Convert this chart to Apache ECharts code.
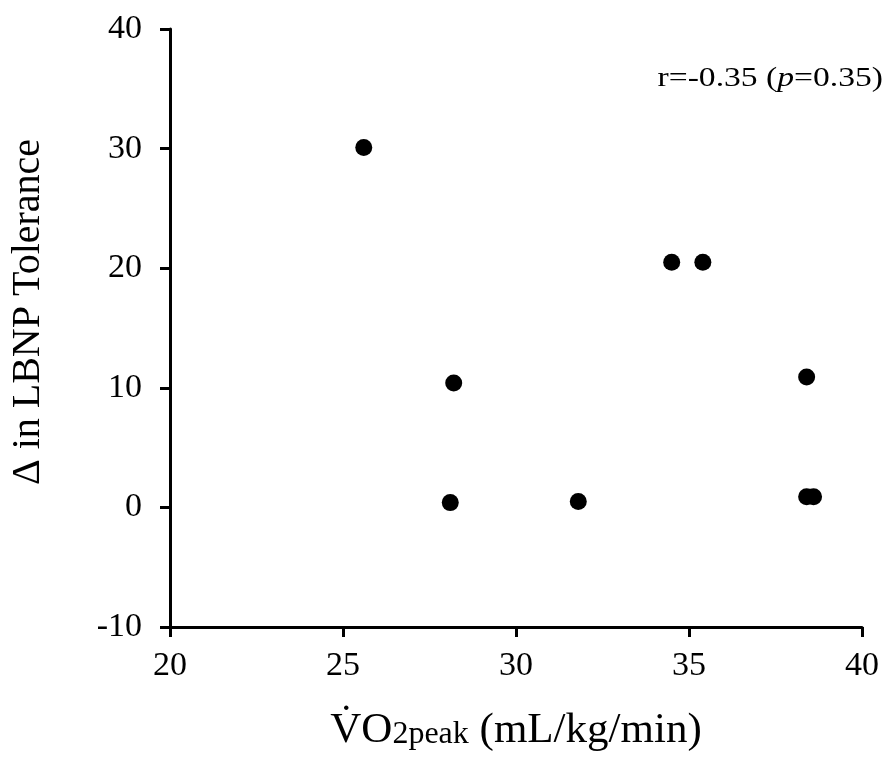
<!DOCTYPE html>
<html>
<head>
<meta charset="utf-8">
<script src="https://cdn.jsdelivr.net/npm/echarts@6/dist/echarts.min.js"></script>
<style>
html,body{margin:0;padding:0;background:#fff;}
#chart{width:887px;height:757px;}
</style>
</head>
<body>
<div id="chart"></div>
<script>
// Data
const vo2peak = [25.6, 28.2, 28.1, 31.8, 34.5, 35.4, 38.4, 38.4, 38.6];
const deltaLBNP = [30.1, 10.4, 0.4, 0.5, 20.5, 20.5, 10.9, 0.9, 0.9];
const xTicks = [20, 25, 30, 35, 40];
const yTicks = [-10, 0, 10, 20, 30, 40];
const yTitle = 'Δ in LBNP Tolerance';
const statText = 'r=-0.35 (p=0.35)';

const FONT = '"Liberation Serif", "Times New Roman", serif';
const points = vo2peak.map((x, i) => [x, deltaLBNP[i]]);

const chart = echarts.init(document.getElementById('chart'), null, {renderer: 'canvas'});
chart.setOption({
  backgroundColor: '#ffffff',
  animation: false,
  grid: {left: 165, right: 25, top: 29, bottom: 126, containLabel: false},
  xAxis: {
    type: 'value',
    min: xTicks[0], max: xTicks[xTicks.length - 1], interval: 5,
    splitLine: {show: false},
    axisLine: {show: true, onZero: false, lineStyle: {color: '#000', width: 3}},
    axisTick: {show: true, length: 10, lineStyle: {color: '#000', width: 3}},
    axisLabel: {color: '#000', fontFamily: FONT, fontSize: 34, margin: 22},
    name: '{v|V̇O}{s|2peak}{v| (mL/kg/min)}',
    nameLocation: 'middle',
    nameGap: 82,
    nameTextStyle: {
      color: '#000', fontFamily: FONT,
      rich: {
        v: {fontFamily: FONT, fontSize: 43, color: '#000', verticalAlign: 'bottom'},
        s: {fontFamily: FONT, fontSize: 32, color: '#000', verticalAlign: 'bottom', padding: [0, 0, 1, 0]}
      }
    }
  },
  yAxis: {
    type: 'value',
    min: yTicks[0], max: yTicks[yTicks.length - 1], interval: 10,
    splitLine: {show: false},
    axisLine: {show: true, onZero: false, lineStyle: {color: '#000', width: 3}},
    axisTick: {show: true, length: 10, lineStyle: {color: '#000', width: 3}},
    axisLabel: {color: '#000', fontFamily: FONT, fontSize: 34, margin: 28},
    name: yTitle,
    nameLocation: 'middle',
    nameGap: 122,
    nameTextStyle: {color: '#000', fontFamily: FONT, fontSize: 40, padding: [0, 0, 0, 32]}
  },
  graphic: [{
    type: 'text',
    right: 4,
    top: 65,
    scaleX: 1.2,
    style: {
      text: '{n|r=-0.35 (}{i|p}{n|=0.35)}',
      rich: {
        n: {fontFamily: FONT, fontSize: 28, fill: '#000'},
        i: {fontFamily: FONT, fontSize: 28, fontStyle: 'italic', fill: '#000'}
      }
    }
  }],
  series: [{
    type: 'scatter',
    data: points,
    symbol: 'circle',
    symbolSize: 17,
    itemStyle: {color: '#000', opacity: 1},
    emphasis: {disabled: true}
  }]
});
</script>
</body>
</html>
